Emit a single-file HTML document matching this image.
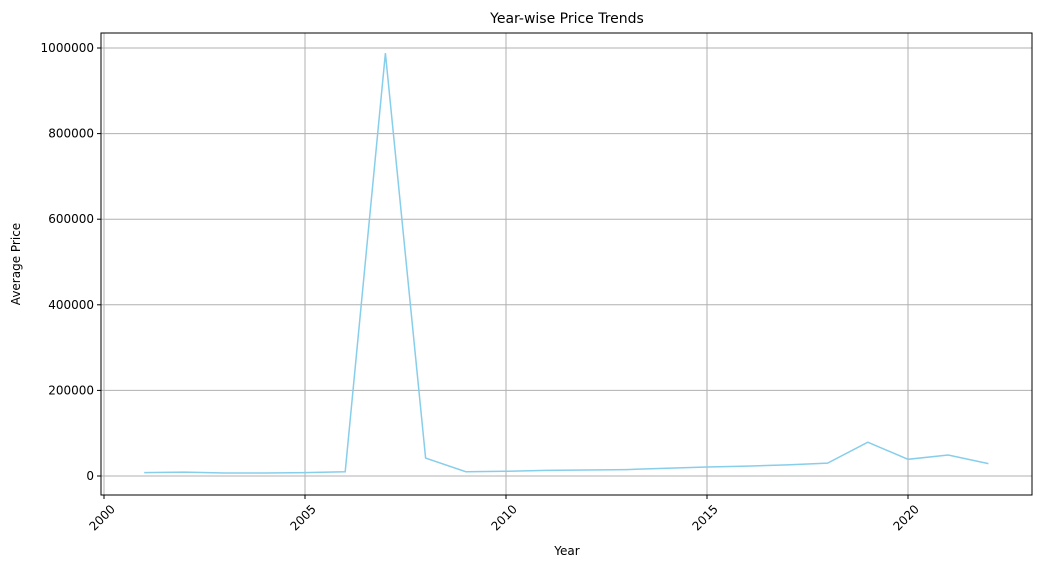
<!DOCTYPE html>
<html><head><meta charset="utf-8"><style>
body{margin:0;background:#fff;font-family:"Liberation Sans","DejaVu Sans",sans-serif}
</style></head><body>
<svg id="chart" width="1042" height="568" xmlns="http://www.w3.org/2000/svg" font-family="DejaVu Sans, Liberation Sans, sans-serif">
<rect width="1042" height="568" fill="#fff"/>
<g id="grid"></g>
<g id="axes"></g>
<g id="series"></g>
<text x="567" y="23" font-size="14" text-anchor="middle">Year-wise Price Trends</text>
<text x="567" y="555" font-size="12" text-anchor="middle">Year</text>
<text transform="translate(20,264) rotate(-90)" font-size="12" text-anchor="middle">Average Price</text>
</svg>
<script>
const years=[2001,2002,2003,2004,2005,2006,2007,2008,2009,2010,2011,2012,2013,2014,2015,2016,2017,2018,2019,2020,2021,2022];
const prices=[8000,9000,7000,7000,8000,10000,988000,42000,10000,11000,13000,14000,15000,18000,21000,23000,26000,30000,79000,39000,49000,29000];
const xTicks=[2000,2005,2010,2015,2020];
const yTicks=[0,200000,400000,600000,800000,1000000];
const L=101,R=1032,T=33,B=495;
const x=v=>104+(v-2000)*40.2;
const y=v=>476-v*0.000428;
const NS="http://www.w3.org/2000/svg";
function mk(t,a,p){const e=document.createElementNS(NS,t);for(const k in a)e.setAttribute(k,a[k]);p.appendChild(e);return e;}
const g=document.getElementById('grid'),ax=document.getElementById('axes'),s=document.getElementById('series');
xTicks.forEach(t=>{
 const l=mk('line',{x1:x(t),x2:x(t),y1:T,y2:B,stroke:'#b0b0b0','stroke-width':1},g);
 
 
 mk('line',{x1:x(t),x2:x(t),y1:B,y2:B+4,stroke:'#000'},ax);
 const tx=mk('text',{x:x(t)+9,y:B+16,'font-size':12,'text-anchor':'end',transform:`rotate(-45 ${x(t)+9} ${B+12})`},ax);
 tx.textContent=t;
 
 
});
yTicks.forEach(t=>{
 const l=mk('line',{x1:L,x2:R,y1:y(t),y2:y(t),stroke:'#b0b0b0','stroke-width':1},g);
 
 
 mk('line',{x1:L-4,x2:L,y1:y(t),y2:y(t),stroke:'#000'},ax);
 const tx=mk('text',{x:L-7,y:y(t)+4,'font-size':12,'text-anchor':'end'},ax);
 tx.textContent=t;
 
 
});
const fr=mk('rect',{x:L,y:T,width:R-L,height:B-T,fill:'none',stroke:'#000','stroke-width':1},ax);


const pl=mk('polyline',{points:years.map((v,i)=>x(v)+','+y(prices[i])).join(' '),fill:'none',stroke:'#87ceeb','stroke-width':1.5},s);


</script>
</body></html>
